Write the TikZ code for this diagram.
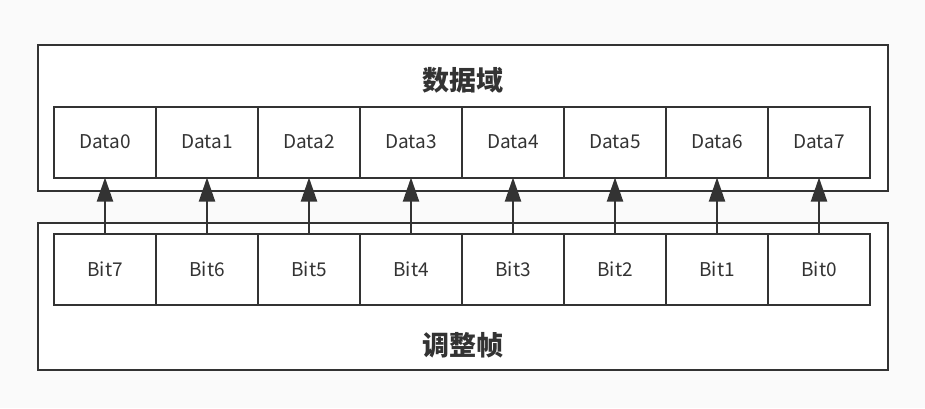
\documentclass[tikz,border=0pt]{standalone}
\usepackage{fontspec}
\setmainfont{Noto Sans CJK SC}
\usetikzlibrary{arrows.meta,positioning}

\begin{document}
\begin{tikzpicture}[
    x=1pt, y=-1pt,
    frame/.style={rectangle, draw=black!80, line width=2pt, fill=white, minimum width=850pt, minimum height=146pt, outer sep=0pt, anchor=north west},
    cell/.style={rectangle, draw=black!80, line width=2pt, fill=white, minimum width=102pt, minimum height=71pt, inner sep=0pt, outer sep=0pt, font=\fontsize{19}{19}\selectfont, text=black!80},
    title/.style={font=\bfseries\fontsize{27}{27}\selectfont, text=black!80},
    arr/.style={-{Triangle[length=24pt,width=16pt]}, line width=2pt, draw=black!80}
]
    \fill[black!2] (0,0) rectangle (925,408);
    \useasboundingbox (0,0) rectangle (925,408);

    \node[frame] (domain) at (38,45) {};
    \node[frame, minimum height=147pt] (frame) at (38,223) {};
    \node[title] (domainname) at (463,80) {数据域};
    \node[title] (framename) at (463,345) {调整帧};

    % data cells
    \node[cell, anchor=north west] (d0) at (54,106.5) {Data0};
    \foreach \i [remember=\i as \j (initially 0)] in {1,...,7}
        \node[cell, right=0pt of d\j] (d\i) {Data\i};

    % bit cells, Bit7 first
    \node[cell, anchor=north west] (b7) at (54,234) {Bit7};
    \foreach \i [remember=\i as \j (initially 7)] in {6,...,0}
        \node[cell, right=0pt of b\j] (b\i) {Bit\i};

    \foreach \i in {0,...,7} {
        \pgfmathtruncatemacro{\k}{7-\i}
        \draw[arr] (b\k.north) -- (d\i.south);
    }
\end{tikzpicture}
\end{document}
